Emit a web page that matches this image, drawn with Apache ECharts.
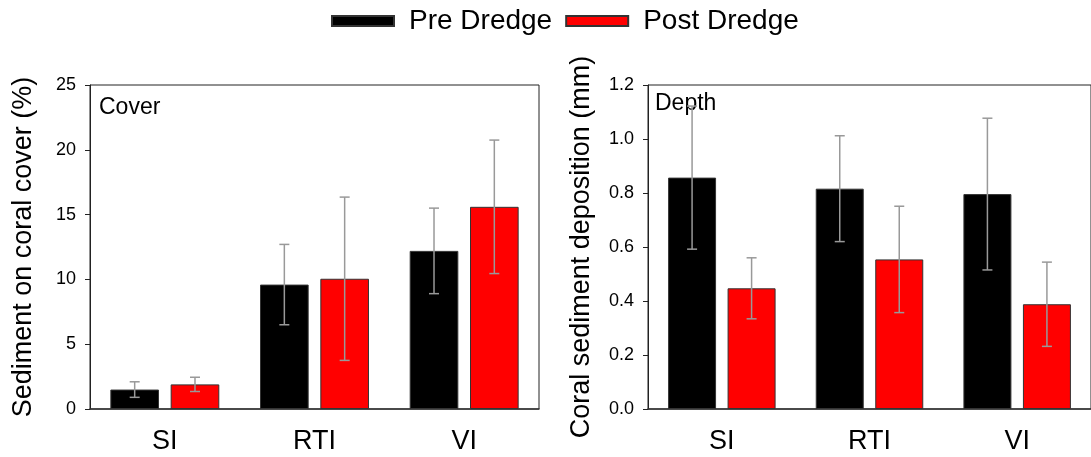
<!DOCTYPE html>
<html>
<head>
<meta charset="utf-8">
<script src="https://cdn.jsdelivr.net/npm/echarts@6/dist/echarts.min.js"></script>
<style>
  html, body { margin: 0; padding: 0; background: #fff; }
  #chart { width: 1091px; height: 457px; }
</style>
</head>
<body>
<div id="chart"></div>
<script>
const sites = ["SI", "RTI", "VI"];

// cover panel (%)
const coverPre = [1.5, 9.6, 12.2];
const coverPreErr = [0.6, 3.1, 3.3];
const coverPost = [1.9, 10.05, 15.6];
const coverPostErr = [0.55, 6.3, 5.15];

// depth panel (mm)
const depthPre = [0.857, 0.816, 0.796];
const depthPreErr = [0.265, 0.196, 0.281];
const depthPost = [0.447, 0.554, 0.388];
const depthPostErr = [0.113, 0.197, 0.156];

const FONT = "'Liberation Sans', Arial, sans-serif";
const BAR_W = 0.325;
const BAR_GAP = 0.24;
const OFFSET = (BAR_W * (1 + BAR_GAP)) / 2;

function errData(means, errs) {
  return means.map((m, i) => [i, m - errs[i], m + errs[i]]);
}

function errRender(side) {
  return (params, api) => {
    const i = api.value(0);
    const lo = api.coord([i, api.value(1)]);
    const hi = api.coord([i, api.value(2)]);
    const band = api.size([1, 0])[0];
    const cx = lo[0] + side * band * OFFSET;
    const hw = 5;
    const style = { stroke: "#999", lineWidth: 1.5 };
    return {
      type: "group",
      children: [
        { type: "line", shape: { x1: cx, y1: hi[1], x2: cx, y2: lo[1] }, style },
        { type: "line", shape: { x1: cx - hw, y1: hi[1], x2: cx + hw, y2: hi[1] }, style },
        { type: "line", shape: { x1: cx - hw, y1: lo[1], x2: cx + hw, y2: lo[1] }, style },
      ],
    };
  };
}

function xAxisFor(gridIndex) {
  return {
    type: "category",
    gridIndex,
    data: sites,
    axisLine: { lineStyle: { color: "#333", width: 1.5 } },
    axisTick: { alignWithLabel: true, length: 5, lineStyle: { color: "#333" } },
    axisLabel: { color: "#000", fontSize: 27, fontFamily: FONT, margin: 19 },
    splitLine: { show: false },
  };
}

function yAxisFor(gridIndex, name, max, interval, digits) {
  return {
    type: "value",
    gridIndex,
    min: 0,
    max,
    interval,
    name,
    nameLocation: "middle",
    nameGap: 53,
    nameTextStyle: { color: "#000", fontSize: 27, fontFamily: FONT },
    axisLine: { show: true, lineStyle: { color: "#222", width: 1 } },
    axisTick: { show: true, length: 5, lineStyle: { color: "#222" } },
    axisLabel: {
      color: "#000",
      fontSize: 18,
      fontFamily: FONT,
      margin: 14,
      formatter: (v) => v.toFixed(digits),
    },
    splitLine: { show: false },
  };
}

function barSeries(name, idx, values, color) {
  return {
    name,
    type: "bar",
    xAxisIndex: idx,
    yAxisIndex: idx,
    data: values,
    barWidth: BAR_W * 100 + "%",
    barGap: BAR_GAP * 100 + "%",
    itemStyle: { color, borderColor: "#333", borderWidth: 1 },
  };
}

function errSeries(idx, side, means, errs) {
  return {
    type: "custom",
    xAxisIndex: idx,
    yAxisIndex: idx,
    data: errData(means, errs),
    renderItem: errRender(side),
    encode: { x: 0, y: [1, 2] },
    z: 5,
    silent: true,
  };
}

const chart = echarts.init(document.getElementById("chart"));
chart.setOption({
  animation: false,
  backgroundColor: "#fff",
  legend: {
    data: ["Pre Dredge", "Post Dredge"],
    icon: "rect",
    top: 2,
    left: 326,
    itemWidth: 62,
    itemHeight: 10,
    itemGap: 13,
    textStyle: { color: "#000", fontSize: 28, fontFamily: FONT, padding: [0, 0, 0, 10] },
  },
  grid: [
    { left: 90, top: 85, width: 449, height: 324, show: true, borderColor: "#222", borderWidth: 1 },
    { left: 648, top: 85, width: 449, height: 324, show: true, borderColor: "#222", borderWidth: 1 },
  ],
  xAxis: [xAxisFor(0), xAxisFor(1)],
  yAxis: [
    yAxisFor(0, "Sediment on coral cover (%)", 25, 5, 0),
    yAxisFor(1, "Coral sediment deposition (mm)", 1.2, 0.2, 1),
  ],
  graphic: [
    { type: "text", left: 99, top: 96, style: { text: "Cover", fontSize: 23, fontFamily: FONT, fill: "#000" } },
    { type: "text", left: 655, top: 92, style: { text: "Depth", fontSize: 23, fontFamily: FONT, fill: "#000" } },
  ],
  series: [
    barSeries("Pre Dredge", 0, coverPre, "#000"),
    barSeries("Post Dredge", 0, coverPost, "#ff0000"),
    errSeries(0, -1, coverPre, coverPreErr),
    errSeries(0, 1, coverPost, coverPostErr),
    barSeries("Pre Dredge", 1, depthPre, "#000"),
    barSeries("Post Dredge", 1, depthPost, "#ff0000"),
    errSeries(1, -1, depthPre, depthPreErr),
    errSeries(1, 1, depthPost, depthPostErr),
  ],
});
</script>
</body>
</html>
